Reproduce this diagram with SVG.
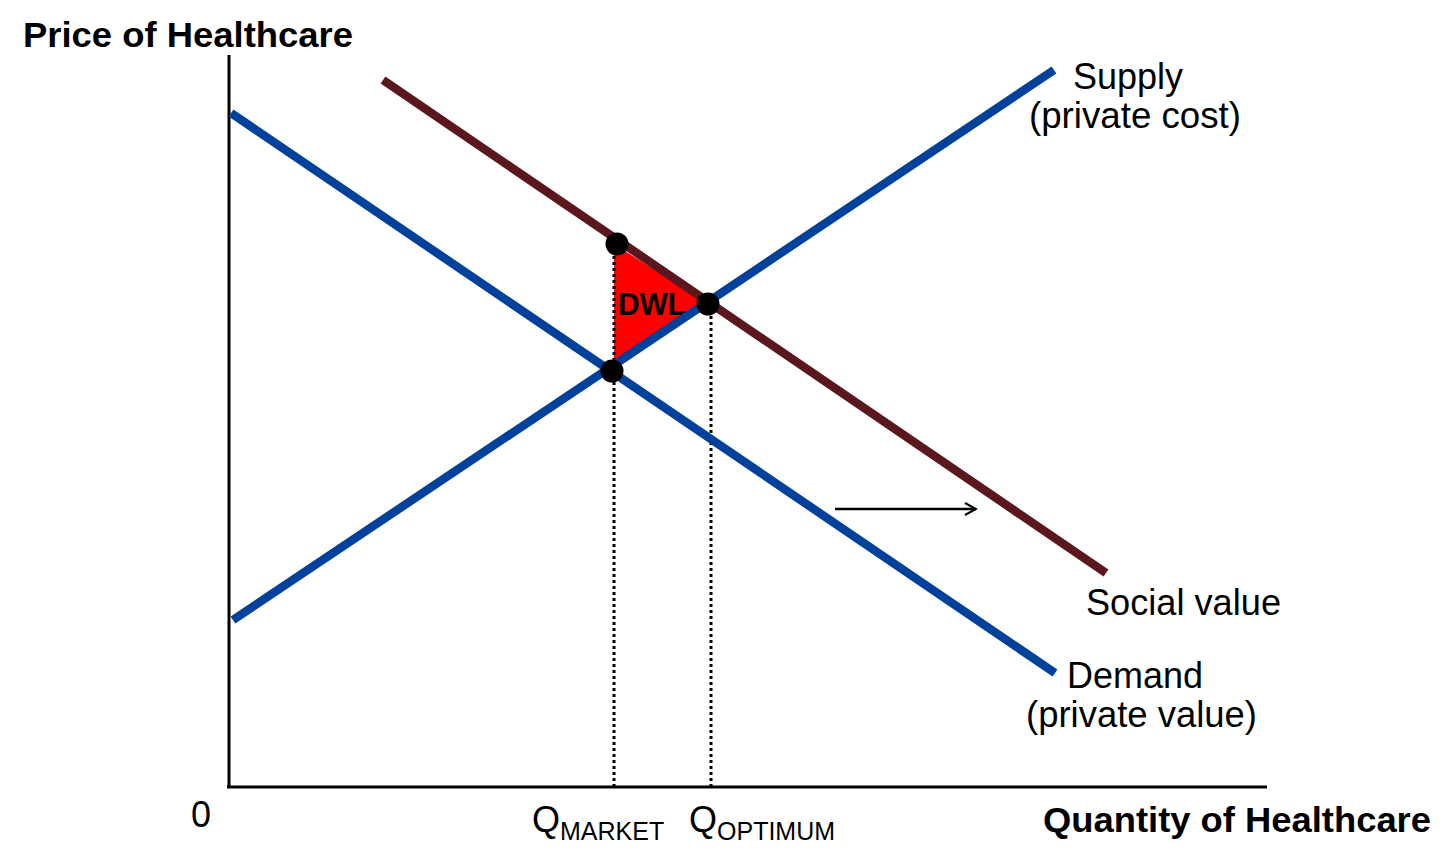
<svg xmlns="http://www.w3.org/2000/svg" width="1456" height="863" viewBox="0 0 1456 863">
<style>
.lbl{font-family:"Liberation Sans",Arial,sans-serif;font-size:36px;fill:#000}
.bold{font-family:"Liberation Sans",Arial,sans-serif;font-weight:bold;fill:#000}
.sub{font-family:"Liberation Sans",Arial,sans-serif;font-size:25px;fill:#000}
.curve{stroke-width:8.5;fill:none;stroke-linecap:butt}
.blue{stroke:#00419b}
.brown{stroke:#5a181e}
.axis{stroke:#000;stroke-width:3;fill:none}
.dots{stroke:#000;stroke-width:3;stroke-dasharray:3 3;fill:none}
.pt{fill:#000}
</style>
<defs>
<marker id="chev" viewBox="0 0 14 14" refX="12" refY="7" markerWidth="14" markerHeight="14" markerUnits="userSpaceOnUse" orient="auto">
<path d="M1,1 L12,7 L1,13" fill="none" stroke="#000" stroke-width="2"/>
</marker>
</defs>
<rect width="1456" height="863" fill="#fff"/>
<g id="axes">
<line class="axis" x1="229" y1="55" x2="229" y2="788"/>
<line class="axis" x1="227" y1="787" x2="1267" y2="787"/>
<text class="bold" x="23" y="47" font-size="35" textLength="330" lengthAdjust="spacingAndGlyphs">Price of Healthcare</text>
<text class="bold" x="1043" y="832" font-size="35" textLength="388" lengthAdjust="spacingAndGlyphs">Quantity of Healthcare</text>
<text class="lbl" x="191" y="827">0</text>
</g>
<g id="dwl">
<polygon points="614,244 708,304 614,370" fill="#ff0000"/>
<text class="bold" x="652" y="315" font-size="32" text-anchor="middle" textLength="68" lengthAdjust="spacingAndGlyphs">DWL</text>
</g>
<g id="connectors">
<line class="dots" x1="614" y1="250" x2="614" y2="787"/>
<line class="dots" x1="711" y1="310" x2="711" y2="787"/>
<line x1="835" y1="509" x2="976" y2="509" stroke="#000" stroke-width="2.5" marker-end="url(#chev)"/>
</g>
<g id="demand">
<line class="curve blue" x1="231" y1="113" x2="1055" y2="673"/>
<text class="lbl" x="1067" y="688" textLength="136" lengthAdjust="spacingAndGlyphs">Demand</text>
<text class="lbl" x="1026" y="727" textLength="231" lengthAdjust="spacingAndGlyphs">(private value)</text>
</g>
<g id="supply">
<line class="curve blue" x1="233" y1="620" x2="1054" y2="70"/>
<text class="lbl" x="1073" y="89" textLength="110" lengthAdjust="spacingAndGlyphs">Supply</text>
<text class="lbl" x="1029" y="128" textLength="212" lengthAdjust="spacingAndGlyphs">(private cost)</text>
</g>
<g id="social">
<line class="curve brown" x1="383" y1="80" x2="1106" y2="573"/>
<text class="lbl" x="1086" y="615" textLength="195" lengthAdjust="spacingAndGlyphs">Social value</text>
</g>
<g id="points">
<circle class="pt" cx="617" cy="244" r="11.5"/>
<circle class="pt" cx="708" cy="304" r="11.5"/>
<circle class="pt" cx="612" cy="371" r="11.5"/>
</g>
<g id="qlabels">
<text class="lbl" x="532" y="832" font-size="37">Q<tspan class="sub" dy="8">MARKET</tspan></text>
<text class="lbl" x="689" y="832" font-size="37">Q<tspan class="sub" dy="8">OPTIMUM</tspan></text>
</g>
</svg>
